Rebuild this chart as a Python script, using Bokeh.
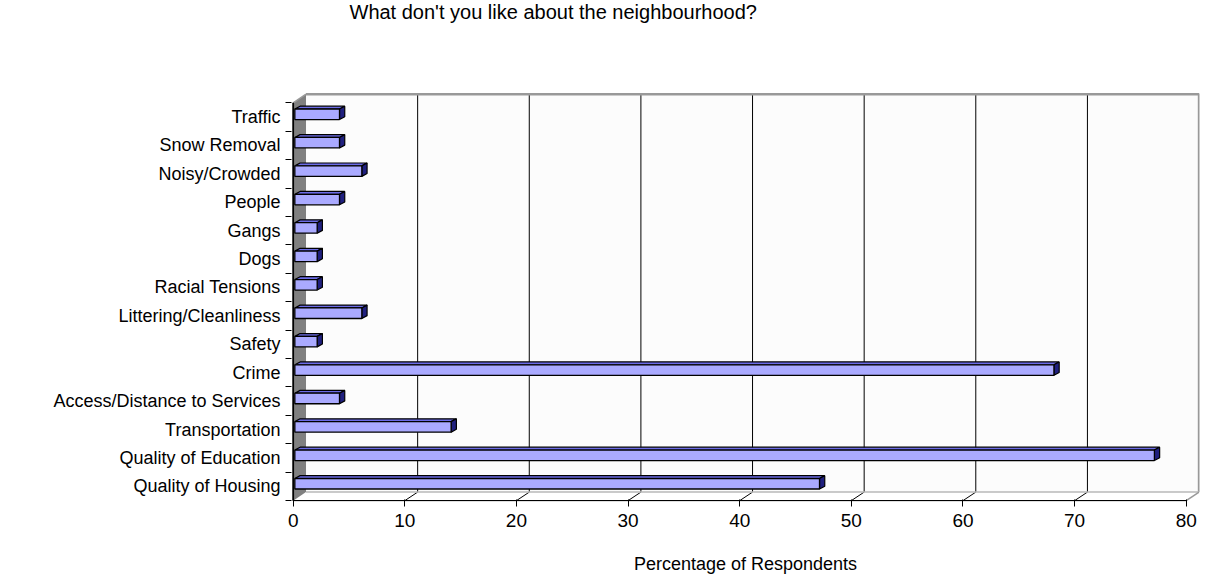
from bokeh.plotting import figure
from bokeh.models import Range1d, FixedTicker, Title
from bokeh.embed import file_html
from bokeh.resources import INLINE

title_text = "What don't you like about the neighbourhood?"
x_title = "Percentage of Respondents"
categories = ["Quality of Housing", "Quality of Education", "Transportation",
              "Access/Distance to Services", "Crime", "Safety",
              "Littering/Cleanliness", "Racial Tensions", "Dogs", "Gangs",
              "People", "Noisy/Crowded", "Snow Removal", "Traffic"]
values = [47, 77, 14, 4, 68, 2, 6, 2, 2, 2, 4, 6, 4, 4]
x_ticks = [0, 10, 20, 30, 40, 50, 60, 70, 80]

FONT = "Liberation Sans"
DX, DY = 1.15, 0.30          # depth of the 3-D box (data units)
OX = 0.15                    # bar depth offset
BX, BY = 0.47, 0.10          # bar depth
B0, B1 = 0.41, 0.78          # bar face within category slot
n = len(categories)
x_max = x_ticks[-1]

p = figure(width=1207, height=577,
           x_range=Range1d(-0.15, 81.19), y_range=Range1d(-0.03, 14.467),
           output_backend="svg", toolbar_location=None,
           min_border_left=291, min_border_right=8,
           min_border_top=89, min_border_bottom=76,
           background_fill_color="white", border_fill_color="white")
p.outline_line_color = None
p.grid.visible = False

# back wall
p.quad(left=DX, right=x_max + DX, bottom=DY, top=n + DY,
       fill_color="#FCFCFC", line_color=None)
inner = x_ticks[1:-1]
p.segment(x0=[t + DX for t in inner], y0=[DY] * len(inner),
          x1=[t + DX for t in inner], y1=[n + DY] * len(inner),
          line_color="black", line_width=1)
p.segment(x0=inner, y0=[0] * len(inner),
          x1=[t + DX for t in inner], y1=[DY] * len(inner),
          line_color="black", line_width=1)
# back wall border and floor
p.line(x=[DX, x_max + DX, x_max + DX], y=[n + DY, n + DY, DY],
       line_color="#999999", line_width=2.5)
p.line(x=[DX, x_max + DX], y=[DY, DY], line_color="#B8B8B8", line_width=1.5)
p.line(x=[x_max, x_max + DX], y=[0, DY], line_color="#999999", line_width=1.5)
# side wall
p.patch(x=[0, DX, DX, 0], y=[0, DY, n + DY, n],
        fill_color="#808080", line_color=None)
p.line(x=[0, DX], y=[n, n + DY], line_color="#999999", line_width=1.5)
# front edges
p.line(x=[0, x_max], y=[0, 0], line_color="black", line_width=1.3)
p.line(x=[0, 0], y=[0, n], line_color="black", line_width=1.8)

# bars
top_xs, top_ys, cap_xs, cap_ys = [], [], [], []
for i, v in enumerate(values):
    yb, yt = i + B0, i + B1
    x0, x1 = OX, v + OX
    top_xs.append([x0, x1, x1 + BX, x0 + BX])
    top_ys.append([yt, yt, yt + BY, yt + BY])
    cap_xs.append([x1, x1, x1 + BX, x1 + BX])
    cap_ys.append([yb, yt, yt + BY, yb + BY])
p.patches(xs=top_xs, ys=top_ys, fill_color="#6B6BE6", line_color="black", line_width=1.2)
p.patches(xs=cap_xs, ys=cap_ys, fill_color="#20207F", line_color="black", line_width=1.2)
p.quad(left=[OX] * n, right=[v + OX for v in values],
       bottom=[i + B0 for i in range(n)], top=[i + B1 for i in range(n)],
       fill_color="#AAAAFF", line_color="black", line_width=1.3)

# x axis
xa = p.xaxis[0]
xa.ticker = FixedTicker(ticks=x_ticks)
xa.axis_line_color = None
xa.major_tick_in = 2
xa.major_tick_out = 5
xa.major_tick_line_color = "black"
xa.minor_tick_line_color = None
xa.major_label_standoff = 7
xa.major_label_text_font = FONT
xa.major_label_text_font_size = "19px"
xa.major_label_text_color = "black"
xa.axis_label = x_title
xa.axis_label_text_font = FONT
xa.axis_label_text_font_size = "18px"
xa.axis_label_text_font_style = "normal"
xa.axis_label_text_color = "black"
xa.axis_label_standoff = 24

# y axis
ya = p.yaxis[0]
ya.ticker = FixedTicker(ticks=[i + 0.5 for i in range(n)],
                        minor_ticks=list(range(n + 1)))
ya.major_label_overrides = {i + 0.5: c for i, c in enumerate(categories)}
ya.axis_line_color = None
ya.major_tick_line_color = None
ya.major_tick_in = 0
ya.major_tick_out = 0
ya.minor_tick_in = 0
ya.minor_tick_out = 6
ya.minor_tick_line_color = "black"
ya.major_label_standoff = 5
ya.major_label_text_font = FONT
ya.major_label_text_font_size = "18px"
ya.major_label_text_color = "black"

# empty spacer between the frame and the chart title
p.add_layout(Title(text=" ", text_font_size="10px", standoff=52), "above")

# chart title (outermost)
p.title = Title(text=title_text, align="left", offset=58,
                vertical_align="top", standoff=0,
                text_font=FONT, text_font_size="20px",
                text_font_style="normal", text_color="black")

open("out.html", "w").write(file_html(p, INLINE))
